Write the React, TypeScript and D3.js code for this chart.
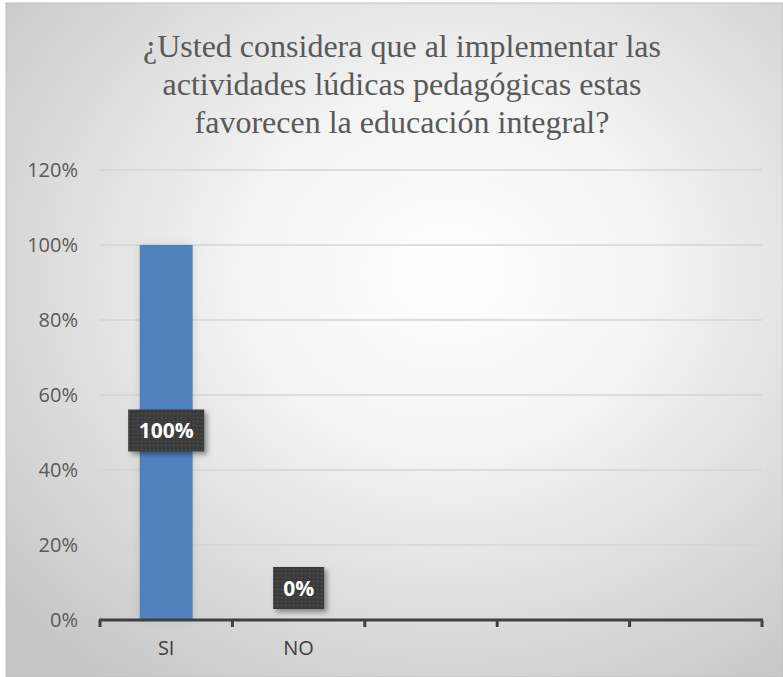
import React from "react";
import * as d3 from "d3";

const titleLines = [
  "¿Usted considera que al implementar las",
  "actividades lúdicas pedagógicas estas",
  "favorecen la educación integral?",
];
const categories = ["SI", "NO", "c3", "c4", "c5"];
const categoryLabels = ["SI", "NO", "", "", ""];
const values = [1.0, 0.0, null, null, null];
const yTicks = [0, 0.2, 0.4, 0.6, 0.8, 1.0, 1.2];

const W = 783;
const H = 677;
const plot = { left: 100, right: 762, top: 170, bottom: 620 };
const SANS = "'Open Sans', 'Liberation Sans', sans-serif";
const SERIF = "'Liberation Serif', 'Times New Roman', Times, 'DejaVu Serif', serif";

export default function App() {
  const x = d3
    .scaleBand<string>()
    .domain(categories)
    .range([plot.left, plot.right])
    .paddingInner(0.6)
    .paddingOuter(0.3);
  const xOuter = d3.scaleBand<string>().domain(categories).range([plot.left, plot.right]);
  const y = d3.scaleLinear().domain([0, 1.2]).range([plot.bottom, plot.top]);
  const fmt = d3.format(".0%");
  const boundaries = [...categories.map((c) => xOuter(c)!), plot.right];

  return (
    <svg
      width={W}
      height={H}
      style={{ position: "absolute", left: 0, top: 0, display: "block" }}
      xmlns="http://www.w3.org/2000/svg"
    >
      <defs>
        <radialGradient id="bg" cx="0.57" cy="0.4" r="0.75">
          <stop offset="0" stopColor="#ffffff" />
          <stop offset="0.35" stopColor="#f4f4f4" />
          <stop offset="1" stopColor="#c6c6c6" />
        </radialGradient>
        <pattern id="dots" width="4" height="4" patternUnits="userSpaceOnUse">
          <rect width="4" height="4" fill="#3a3a3a" />
          <rect x="1" y="1" width="1.3" height="1.3" fill="#555" />
        </pattern>
        <filter id="shadow" x="-30%" y="-30%" width="170%" height="170%">
          <feDropShadow dx="3" dy="3" stdDeviation="2.5" floodColor="#000" floodOpacity="0.4" />
        </filter>
        <filter id="barshadow" x="-30%" y="-10%" width="160%" height="120%">
          <feDropShadow dx="0" dy="0" stdDeviation="4" floodColor="#000" floodOpacity="0.12" />
        </filter>
      </defs>
      <rect x={0} y={0} width={W} height={H} fill="#ffffff" />
      <rect x={6} y={3} width={W - 6} height={H - 3} fill="url(#bg)" stroke="#bfbfbf" strokeWidth={1} />

      {titleLines.map((t, i) => (
        <text
          key={i}
          x={402}
          y={57 + i * 38}
          textAnchor="middle"
          style={{ fontFamily: SERIF }}
          fontSize={32}
          fill="#595959"
        >
          {t}
        </text>
      ))}

      {yTicks.map((t) => (
        <g key={t}>
          {t > 0 && (
            <line x1={plot.left} x2={plot.right} y1={y(t)} y2={y(t)} stroke="#d4d4d4" strokeWidth={1.3} />
          )}
          <text
            x={78}
            y={y(t)}
            dy="0.35em"
            textAnchor="end"
            style={{ fontFamily: SANS }}
            fontSize={20}
            fill="#595959"
          >
            {fmt(t)}
          </text>
        </g>
      ))}

      {categories.map((c, i) =>
        values[i] != null && (values[i] as number) > 0 ? (
          <rect
            key={c}
            x={x(c)}
            y={y(values[i] as number)}
            width={x.bandwidth()}
            height={y(0) - y(values[i] as number)}
            fill="#4f81bd"
            filter="url(#barshadow)"
          />
        ) : null
      )}

      <line x1={plot.left - 1} x2={plot.right + 1} y1={y(0)} y2={y(0)} stroke="#404040" strokeWidth={3} />
      {boundaries.map((b, i) => (
        <line key={i} x1={b} x2={b} y1={y(0)} y2={y(0) + 7} stroke="#404040" strokeWidth={3} />
      ))}

      {categories.map((c, i) => (
        <text
          key={c}
          x={xOuter(c)! + xOuter.bandwidth() / 2}
          y={648}
          dy="0.35em"
          textAnchor="middle"
          style={{ fontFamily: SANS }}
          fontSize={20}
          fill="#404040"
        >
          {categoryLabels[i]}
        </text>
      ))}

      {categories.map((c, i) => {
        const v = values[i];
        if (v == null) return null;
        const cx = xOuter(c)! + xOuter.bandwidth() / 2;
        const label = fmt(v);
        const bw = label.length * 12.5 + 26;
        const bh = 42;
        const cy = v > 0 ? y(v / 2) - 2 : y(0) - 32;
        return (
          <g key={c}>
            <rect x={cx - bw / 2} y={cy - bh / 2} width={bw} height={bh} fill="url(#dots)" filter="url(#shadow)" />
            <text
              x={cx}
              y={cy}
              dy="0.36em"
              textAnchor="middle"
              style={{ fontFamily: SANS }}
              fontWeight="bold"
              fontSize={21}
              fill="#ffffff"
            >
              {label}
            </text>
          </g>
        );
      })}
    </svg>
  );
}
